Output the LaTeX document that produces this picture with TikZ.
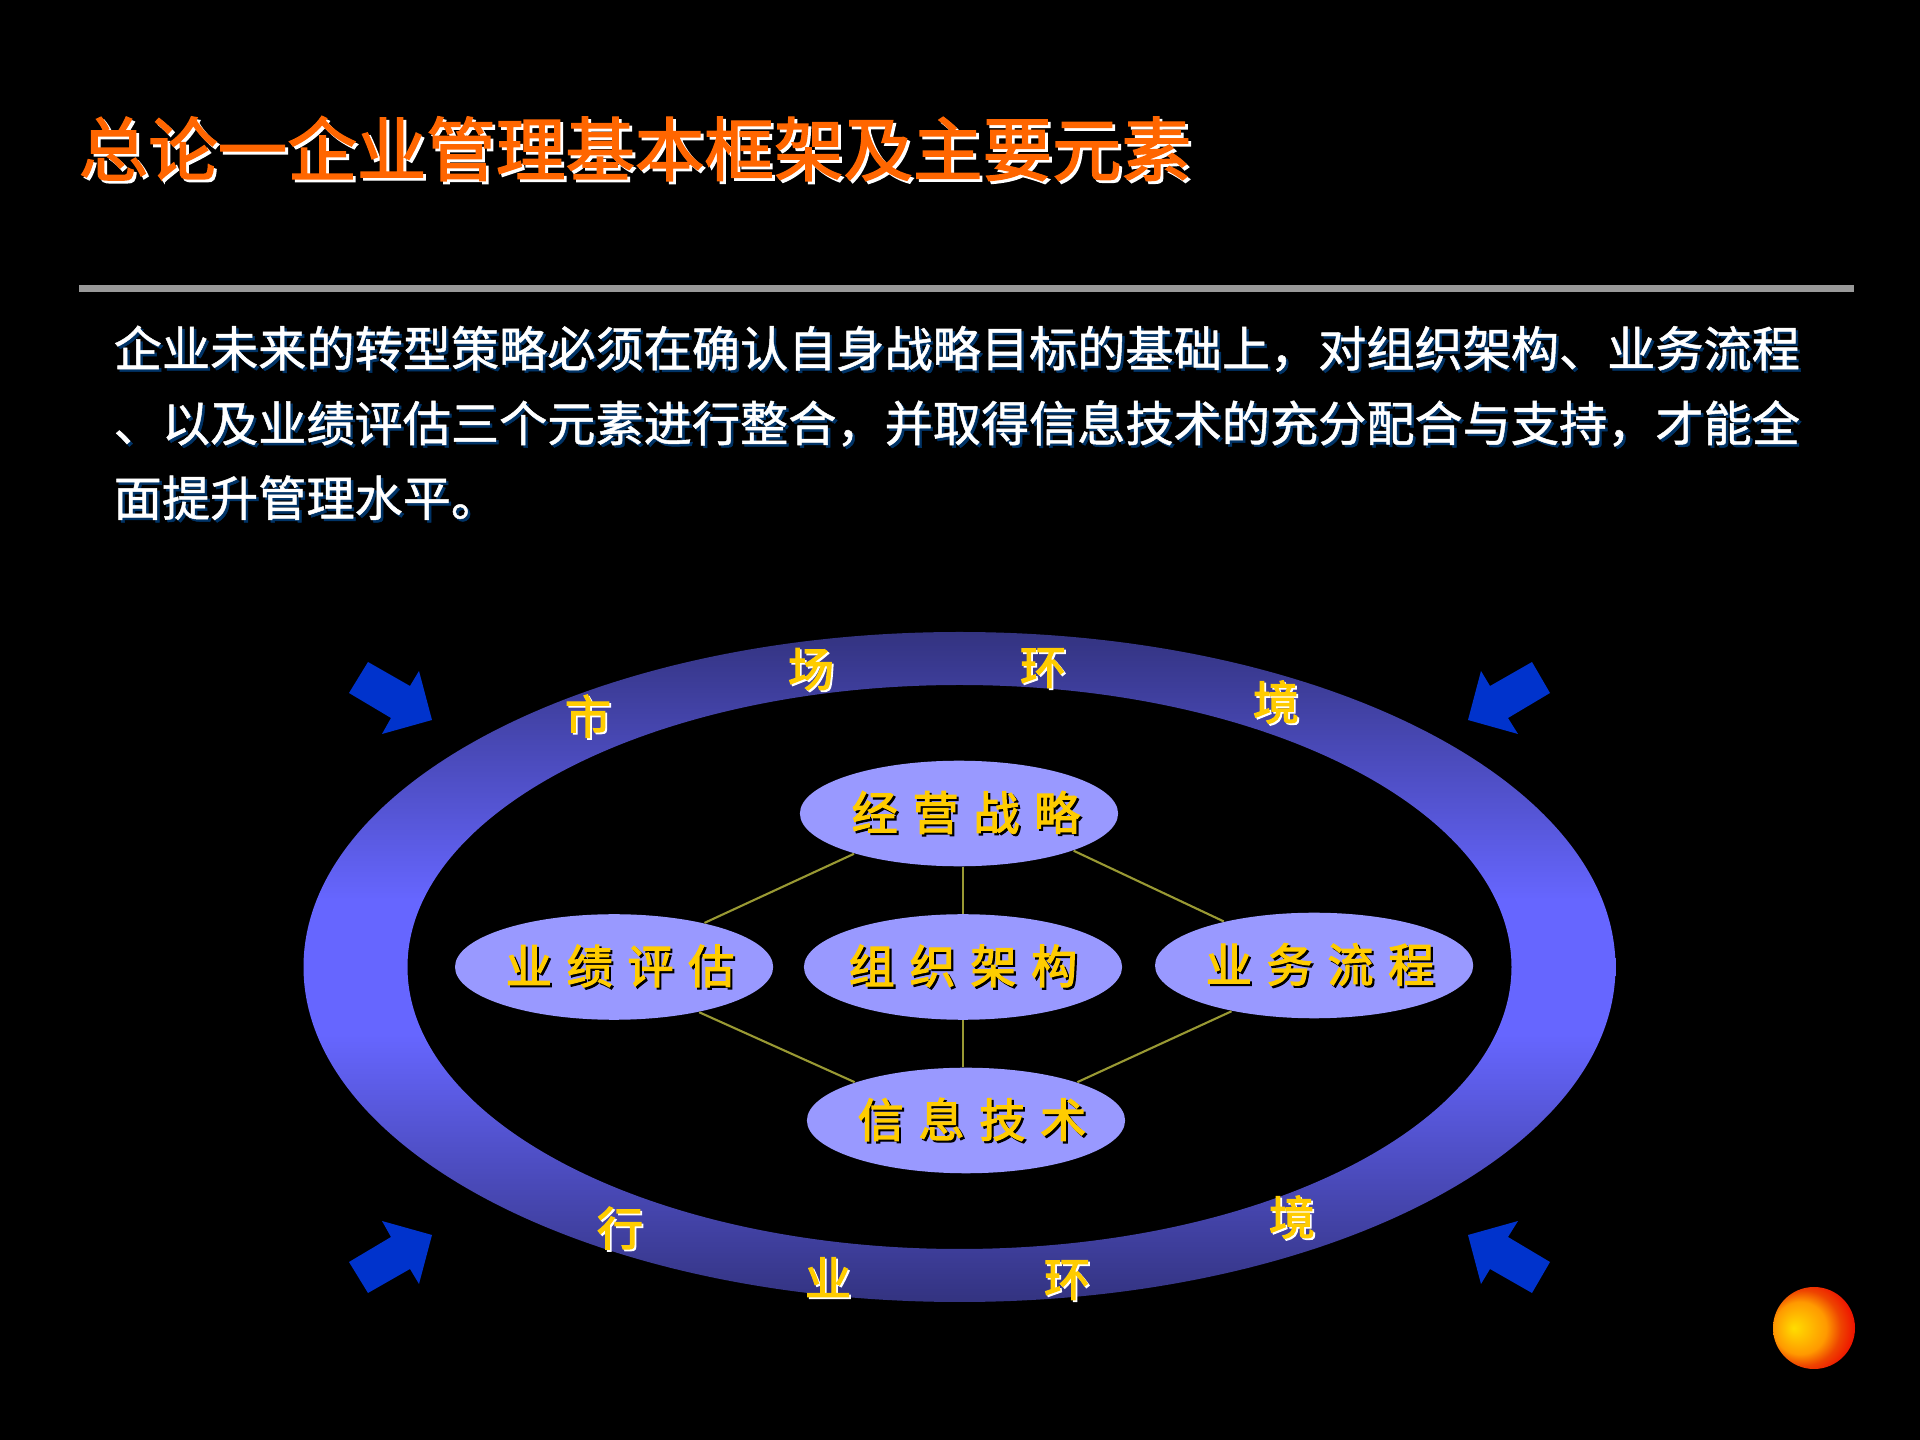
\documentclass[tikz,border=0pt]{standalone}
\usepackage{fontspec}
\usetikzlibrary{positioning,shapes.geometric}

\newfontfamily\cjk[FakeBold=1]{Noto Sans CJK SC}
\newfontfamily\cjkheavy[FakeBold=2]{Noto Sans CJK SC}
\newfontfamily\cjksmall[FakeBold=2.6]{Noto Sans CJK SC}
\definecolor{titleorange}{HTML}{FF6600}
\definecolor{gold}{HTML}{FFCC00}
\definecolor{navy}{HTML}{003366}
\definecolor{ringdark}{HTML}{333380}
\definecolor{ringlight}{HTML}{6666FF}
\definecolor{ovalfill}{HTML}{9999FF}
\definecolor{linkolive}{HTML}{999933}
\definecolor{arrowblue}{HTML}{0033CC}
\definecolor{rulegray}{HTML}{999999}
\definecolor{sunyellow}{HTML}{FFDD00}
\definecolor{sunorange}{HTML}{FF9900}
\definecolor{sunflame}{HTML}{EE4400}
\definecolor{sunred}{HTML}{EE1100}

\newcommand{\shadowtext}[3]{\rlap{\hspace{#2}\raisebox{-#2}{\textcolor{#1}{#3}}}#3}
\newcommand{\ovaltext}[2]{\makebox[0pt]{\spaceskip=4.2pt\relax\hspace*{#1}\shadowtext{black}{0.6pt}{#2}}}
\pgfdeclareradialshading{sunball}{\pgfpoint{-12.5bp}{0bp}}{color(0bp)=(sunyellow); color(16bp)=(sunorange); color(23bp)=(sunflame); color(30bp)=(sunred); color(50bp)=(sunred)}
\pgfdeclareverticalshading{ringband}{100bp}{color(0bp)=(ringdark); color(25bp)=(ringdark); color(45bp)=(ringlight); color(55bp)=(ringlight); color(75bp)=(ringdark); color(100bp)=(ringdark)}

\begin{document}
\begin{tikzpicture}[
x=0.01cm, y=-0.01cm,
titletext/.style={anchor=west, inner sep=0pt, text=titleorange, font=\cjkheavy\fontsize{19.77pt}{24pt}\selectfont},
bodytext/.style={anchor=north west, inner sep=0pt, text=white, align=left, font=\cjk\fontsize{13.7pt}{21.25pt}\selectfont},
oval/.style={ellipse, fill=ovalfill, inner sep=0pt, minimum width=3.18cm, minimum height=1.055cm, text=gold, font=\cjksmall\fontsize{13.1pt}{15pt}\selectfont},
ringchar/.style={inner sep=0pt, text=gold, font=\cjksmall\fontsize{13.1pt}{15pt}\selectfont},
link/.style={linkolive, line width=0.6pt},
block/.style={fill=arrowblue}
]
\fill[black] (0,0) rectangle (1920,1440);

%Ring
\shade[even odd rule, shading=ringband] (959.5,967) ellipse [x radius=656, y radius=335] (959.5,967) ellipse [x radius=552, y radius=282];

%Rule
\fill[rulegray] (79,285) rectangle (1854,292);

%Nodes
\node[titletext]	(title)		at (78,150)					{\shadowtext{white}{0.8pt}{总论一企业管理基本框架及主要元素}};
\node[bodytext]		(body)		at (113,325)				{\shadowtext{navy}{0.7pt}{企业未来的转型策略必须在确认自身战略目标的基础上，对组织架构、业务流程}\\ \shadowtext{navy}{0.7pt}{、以及业绩评估三个元素进行整合，并取得信息技术的充分配合与支持，才能全}\\ \shadowtext{navy}{0.7pt}{面提升管理水平。}};
\node[oval]			(org)		at (963,967)				{\ovaltext{0pt}{组 织 架 构}};
\node[oval]			(strategy)	[above=0.465cm of org, xshift=-0.04cm]	{\ovaltext{4pt}{经 营 战 略}};
\node[oval]			(perform)	[left=0.293cm of org]		{\ovaltext{3.4pt}{业 绩 评 估}};
\node[oval]			(process)	[right=0.315cm of org, yshift=0.015cm]	{\ovaltext{3.4pt}{业 务 流 程}};
\node[oval]			(tech)		[below=0.465cm of org, xshift=0.03cm]	{\ovaltext{3.4pt}{信 息 技 术}};
\node[ringchar]		(market_a)	at (588,717)				{\shadowtext{white}{0.5pt}{市}};
\node[ringchar]		(market_b)	at (811,670)				{\shadowtext{white}{0.5pt}{场}};
\node[ringchar]		(market_c)	at (1043,669)				{\shadowtext{white}{0.5pt}{环}};
\node[ringchar]		(market_d)	at (1276,703)				{\shadowtext{white}{0.5pt}{境}};
\node[ringchar]		(trade_a)	at (620,1229)				{\shadowtext{white}{0.5pt}{行}};
\node[ringchar]		(trade_b)	at (828,1278)				{\shadowtext{white}{0.5pt}{业}};
\node[ringchar]		(trade_c)	at (1067,1281)				{\shadowtext{white}{0.5pt}{环}};
\node[ringchar]		(trade_d)	at (1292,1218)				{\shadowtext{white}{0.5pt}{境}};

%Lines
\draw[link] (strategy.201)	--	(perform.26);
\draw[link] (strategy.-18)	--	(process.154);
\draw[link] (perform.-28)	--	(tech.161);
\draw[link] (process.209)	--	(tech.19);
\draw[link] (org.north)		--	(org.north |- strategy.south);
\draw[link] (org.south)		--	(org.south |- tech.north);

%Arrows
\fill[block] (368,662) -- (349,693) -- (391,718) -- (382,734) -- (432,720) -- (419,671) -- (410,686) -- cycle;
\fill[block] (1550,693) -- (1532,662) -- (1490,686) -- (1481,671) -- (1468,720) -- (1518,734) -- (1508,718) -- cycle;
\fill[block] (368,1293) -- (349,1262) -- (391,1237) -- (382,1221) -- (432,1235) -- (419,1284) -- (410,1269) -- cycle;
\fill[block] (1550,1262) -- (1532,1293) -- (1490,1269) -- (1481,1284) -- (1468,1235) -- (1518,1221) -- (1508,1237) -- cycle;

%Ball
\shade[shading=sunball] (1814,1328) circle [radius=41];
\end{tikzpicture}
\end{document}
